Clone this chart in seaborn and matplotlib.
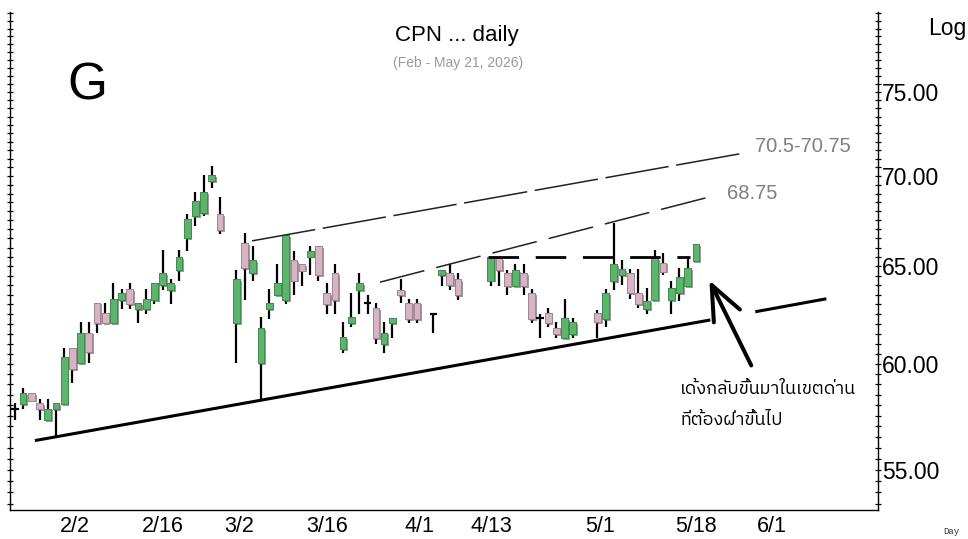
import numpy as np
import pandas as pd
import matplotlib
matplotlib.use("Agg")
import matplotlib.pyplot as plt
import matplotlib.patheffects as pe
import matplotlib.ticker as mticker
from matplotlib import font_manager, ft2font
from matplotlib.transforms import ScaledTranslation
import seaborn as sns

# ---- data ----
start_day = "2026-01-26"
last_day = "2026-05-21"
holidays = ["2026-03-03", "2026-04-06", "2026-04-13", "2026-04-14",
            "2026-04-15", "2026-05-01", "2026-05-04"]

opens = [57.82, 58.06, 58.57, 58.10, 57.30, 57.80, 58.06, 60.80, 60.03, 61.56,
         63.09, 62.58, 62.05, 63.23, 63.78, 62.74, 62.74, 63.23, 64.00, 63.75,
         64.78, 66.50, 67.75, 67.90, 69.70, 67.85, 62.05, 66.23, 64.65, 60.03,
         62.74, 63.50, 63.23, 65.34, 65.10, 65.52, 66.10, 63.57, 64.62, 60.75,
         62.05, 63.75, 63.05, 62.79, 61.00, 62.05, 63.77, 63.09, 63.09, 62.53,
         64.55, 64.62, 64.30, 64.24, 65.43, 64.65, 63.95, 64.65, 63.57, 62.30,
         62.56, 61.80, 61.27, 61.47, 62.58, 62.25, 64.22, 64.55, 64.62, 63.57,
         62.74, 63.23, 65.20, 63.23, 63.57, 63.95, 65.27]
highs = [58.10, 58.84, 58.60, 58.30, 58.30, 58.10, 60.80, 60.80, 62.10, 62.10,
         63.09, 63.09, 64.10, 63.78, 64.10, 63.05, 63.78, 64.10, 65.88, 64.30,
         65.88, 67.85, 69.10, 70.06, 70.60, 68.83, 64.81, 66.80, 66.10, 62.34,
         63.78, 65.10, 66.70, 65.84, 65.10, 66.10, 66.10, 64.10, 65.10, 62.10,
         63.57, 64.62, 63.50, 63.05, 62.10, 62.32, 64.30, 63.30, 63.30, 62.53,
         64.81, 65.10, 64.65, 65.52, 65.52, 64.81, 65.10, 65.10, 63.78, 62.53,
         62.79, 62.10, 63.30, 62.30, 62.70, 63.78, 67.34, 65.34, 64.85, 64.85,
         63.86, 65.90, 65.70, 64.20, 64.90, 65.43, 66.20]
lows = [57.30, 57.80, 58.22, 57.30, 57.30, 56.55, 58.06, 59.05, 60.03, 60.03,
        61.52, 62.05, 62.05, 62.74, 62.74, 62.05, 62.53, 63.00, 63.75, 63.00,
        64.24, 65.80, 67.20, 67.75, 69.30, 66.73, 60.03, 63.23, 64.22, 58.25,
        62.25, 63.50, 63.00, 63.50, 63.95, 64.55, 64.24, 62.53, 62.53, 60.55,
        61.86, 62.53, 62.53, 61.00, 60.55, 61.27, 63.05, 62.05, 62.05, 61.52,
        63.95, 63.75, 63.23, 63.95, 63.95, 63.50, 63.95, 63.50, 62.05, 61.27,
        61.86, 61.27, 61.27, 61.27, 61.27, 61.86, 63.75, 64.00, 63.27, 62.79,
        62.50, 63.23, 64.55, 62.53, 63.20, 63.95, 65.27]
closes = [57.82, 58.57, 58.22, 57.80, 57.84, 58.10, 60.32, 59.73, 61.56, 60.57,
          62.05, 62.05, 63.30, 63.57, 63.00, 63.05, 63.30, 64.10, 64.62, 64.10,
          65.50, 67.55, 68.55, 69.10, 70.06, 66.97, 64.30, 64.90, 65.34, 61.80,
          63.09, 64.10, 66.70, 64.24, 64.77, 65.84, 64.55, 63.00, 63.23, 61.35,
          62.34, 64.10, 63.05, 61.27, 61.56, 62.32, 63.50, 62.25, 62.25, 62.53,
          64.81, 64.00, 63.50, 65.52, 64.81, 63.95, 64.81, 63.95, 62.25, 62.30,
          62.05, 61.47, 62.30, 62.10, 62.08, 63.57, 65.12, 64.85, 63.57, 63.00,
          63.20, 65.43, 64.72, 63.86, 64.42, 64.90, 66.20]

tick_dates = ["2026-02-02", "2026-02-16", "2026-03-02", "2026-03-16", "2026-04-01",
              "2026-04-13", "2026-05-01", "2026-05-18", "2026-06-01"]

# hand-drawn lines, x in trading-day slots, y in price
support_x = [[2.44, 84.76], [90.24, 98.9]]
support_y = [[56.34, 62.20], [62.62, 63.29]]
resist_hi_x = [28.9, 89.0]
resist_hi_y = [66.37, 71.34]
resist_mid_x = [44.5, 85.6]
resist_mid_y = [64.16, 68.92]
flat_x = [57.7, 82.3]
flat_level = 65.52
arrow_tip = (84.5, 64.38)
arrow_tail = (89.9, 59.80)

price_ticks = [55, 60, 65, 70, 75]

# ---- fonts ----
sns.set_style("white")
thai_family = None
for f in sorted(font_manager.fontManager.ttflist, key=lambda f: "Thai" not in f.name):
    try:
        cmap = ft2font.FT2Font(f.fname).get_charmap()
    except Exception:
        continue
    if 0x0E01 in cmap and 0x0E49 in cmap:
        thai_family = f.name
        break
plt.rcParams["font.family"] = ["Liberation Sans", "DejaVu Sans"]
plt.rcParams["text.color"] = "black"
plt.rcParams["xtick.color"] = "black"
plt.rcParams["ytick.color"] = "black"
thai_fonts = [thai_family, "DejaVu Sans"] if thai_family else ["DejaVu Sans"]

# ---- positions on a business-day axis ----
calendar = pd.bdate_range(start_day, "2026-06-30")
dates = pd.bdate_range(start_day, last_day)
dates = dates[~dates.isin(pd.to_datetime(holidays))]
df = pd.DataFrame({"date": dates, "open": opens, "high": highs,
                   "low": lows, "close": closes})
df["x"] = calendar.get_indexer(df["date"])
df["up"] = df["close"] >= df["open"]
df["doji"] = (df["close"] - df["open"]).abs() < 0.02

fig = plt.figure(figsize=(9.68, 5.39), dpi=100)
ax = fig.add_axes([10 / 968, 29 / 539, 868 / 968, 498 / 539])
ax.set_yscale("log")

green, pink = "#5db56d", "#d7b4c4"
ax.vlines(df["x"], df["low"], df["high"], color="black", lw=1.6, zorder=2)
body = df[~df["doji"]]
lo = np.minimum(body["open"], body["close"])
hi = np.maximum(body["open"], body["close"])
bars = ax.bar(body["x"], hi - lo, bottom=lo, width=0.82,
              color=np.where(body["up"], green, pink),
              edgecolor=np.where(body["up"], "#3d8a4c", "#9c8190"),
              lw=0.6, zorder=3)
for b in bars:
    b.set_path_effects([pe.withSimplePatchShadow(offset=(1.3, -1.3), shadow_rgbFace="0.35", alpha=0.6),
                        pe.Normal()])
dj = df[df["doji"]]
ax.hlines(dj["open"], dj["x"] - 0.45, dj["x"] + 0.45, color="black", lw=1.6, zorder=3)

# trend lines
for sx, sy in zip(support_x, support_y):
    ax.plot(sx, sy, color="black", lw=2.2, solid_capstyle="butt", zorder=4)
ax.plot(resist_hi_x, resist_hi_y, color="#222222", lw=1.1, dashes=(42, 5), zorder=4)
ax.plot(resist_mid_x, resist_mid_y, color="#222222", lw=1.1, dashes=(30, 8), zorder=4)
ax.plot(flat_x, [flat_level, flat_level], color="black", lw=2.0, dashes=(11, 6), zorder=4)
ax.annotate("", xy=arrow_tip, xytext=arrow_tail,
            arrowprops=dict(arrowstyle="->,head_length=0.45,head_width=0.19",
                            mutation_scale=55, lw=2.9, color="black"))

ax.text(resist_hi_x[1] + 1.2, resist_hi_y[1] * 1.005, "70.5-70.75", color="#808080",
        fontsize=14.5, ha="left", va="center")
ax.text(resist_mid_x[1] + 1.2, resist_mid_y[1] * 1.001, "68.75", color="#808080",
        fontsize=14.5, ha="left", va="center")
ax.text(81.1, 58.02, "เด้งกลับขึ้นมาในเขตด่าน\nที่ต้องฝ่าขึ้นไป", family=thai_fonts,
        fontsize=13, ha="left", va="center", linespacing=1.9, color="black")

# axes
ax.set_xlim(-0.6, 105.2)
ax.set_ylim(53.22, 80.08)
ax.yaxis.set_major_locator(mticker.FixedLocator(price_ticks))
ax.yaxis.set_major_formatter(mticker.FormatStrFormatter("%.2f"))
ax.yaxis.set_minor_locator(mticker.FixedLocator(np.arange(53.5, 80.01, 0.5)))
ax.yaxis.set_minor_formatter(mticker.NullFormatter())
ax.tick_params(axis="y", which="both", left=True, right=True, labelleft=False,
               labelright=True, direction="inout", length=4, width=0.9,
               labelsize=16.5, pad=1, color="black", labelcolor="black")

tick_pos = calendar.get_indexer(pd.to_datetime(tick_dates))
tick_lbl = [f"{d.month}/{d.day}" for d in pd.to_datetime(tick_dates)]
ax.set_xticks(tick_pos, tick_lbl)
ax.tick_params(axis="x", direction="out", length=21, width=0.8, color="#333333",
               labelsize=15.5, pad=-16.5, labelcolor="black")
shift = ScaledTranslation(4 / 100, 0, fig.dpi_scale_trans)
for lbl in ax.get_xticklabels():
    lbl.set_ha("left")
    lbl.set_transform(lbl.get_transform() + shift)

for side in ["left", "right", "bottom"]:
    ax.spines[side].set_visible(True)
    ax.spines[side].set_color("black")
    ax.spines[side].set_linewidth(1.0)
ax.spines["top"].set_visible(False)
ax.grid(False)

# headings
fig.text(457 / 968, 1 - 35 / 539, "CPN ... daily", fontsize=16, ha="center", va="center")
fig.text(458 / 968, 1 - 63 / 539, "(Feb - May 21, 2026)", fontsize=10,
         color="#9a9a9a", ha="center", va="center")
fig.text(67 / 968, 1 - 100 / 539, "G", fontsize=37, ha="left", va="baseline")
fig.text(928 / 968, 1 - 28 / 539, "Log", fontsize=16.5, ha="left", va="center")
fig.text(943 / 968, 1 - 531 / 539, "Day", fontsize=6.5, family="Liberation Mono",
         ha="left", va="center", color="#333333")

fig.savefig("out.png", dpi=100, facecolor="white")
